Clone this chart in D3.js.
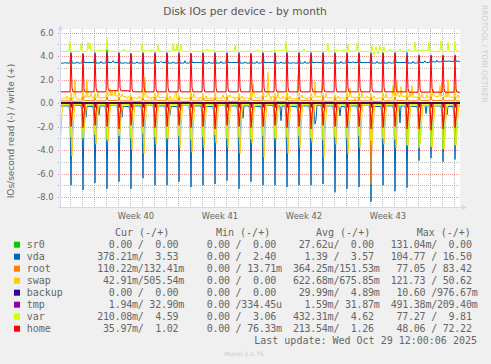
<!DOCTYPE html>
<html><head><meta charset="utf-8">
<script src="https://cdn.jsdelivr.net/npm/d3@7/dist/d3.min.js"></script>
<style>
body{margin:0;background:#f0f0f0;}
svg{display:block;}
text{white-space:pre;}
</style>
</head><body>
<svg id="chart" width="491" height="364"></svg>
<script>
// ---------------- DATA ----------------
// One entry per calendar day, Sep 26 .. Oct 29 2025 (34 days); values sampled every 2 h.
const seriesNames  = ["sr0","vda","root","swap","backup","tmp","var","home"];
const seriesColors = ["#00cc00","#0066b3","#ff8000","#ffcc00","#330099","#990099","#ccff00","#ff0000"];
const yTicks = [6,4,2,0,-2,-4,-6,-8];
const weekLabels = ["Week 40","Week 41","Week 42","Week 43"];

// write (+) side
const sr0Base        = [0,0,0,0,0,0,0,0,0,0,0,0,0,0,0,0,0,0,0,0,0,0,0,0,0,0,0,0,0,0,0,0,0,0];
const vdaWriteBase   = [3.40,3.40,3.45,3.40,3.45,3.40,3.40,3.40,3.45,3.40,3.40,3.45,3.40,3.40,3.45,3.40,3.40,3.45,3.40,3.40,3.40,3.45,3.40,3.40,3.45,3.45,3.40,3.40,3.45,3.40,3.45,3.50,3.55,3.55];
const vdaWritePeak   = [3.40,4.30,4.20,4.30,4.60,4.30,4.25,4.30,4.30,4.30,4.30,4.25,4.30,4.30,4.30,4.30,4.20,4.30,4.30,4.30,4.30,4.30,4.30,4.30,4.30,4.30,4.30,4.30,4.30,4.30,4.10,4.10,4.05,4.10];
const vdaWriteMid    = [3.45,3.50,3.45,3.55,3.60,3.45,3.50,3.45,3.55,3.50,3.60,3.45,3.50,3.55,3.45,3.50,3.55,3.45,3.50,3.45,3.55,3.50,3.45,3.55,3.50,3.45,3.55,3.50,3.45,3.55,3.60,3.65,3.60,3.60];
const rootWriteBase  = [0.18,0.15,0.20,0.18,0.22,0.18,0.15,0.18,0.20,0.18,0.15,0.18,0.20,0.18,0.15,0.18,0.20,0.18,0.15,0.18,0.20,0.18,0.15,0.18,0.20,0.18,0.15,0.18,0.20,0.18,0.20,0.22,0.20,0.18];
const rootWritePeak  = [0.18,0.50,0.60,0.45,0.55,0.50,0.60,0.45,0.50,0.55,0.50,0.60,0.45,0.50,0.55,0.50,0.45,0.60,0.50,0.55,0.50,0.45,0.60,0.50,0.55,0.50,0.60,0.45,0.50,0.55,0.50,0.60,0.50,0.55];
const swapWriteBase  = [0.40,0.35,0.50,0.45,0.60,0.55,0.40,0.50,0.45,0.35,0.40,0.45,0.35,0.40,0.50,0.40,0.45,0.60,0.40,0.35,0.45,0.50,0.45,0.40,0.50,0.45,0.40,0.45,0.55,0.50,0.45,0.55,0.50,0.45];
const swapWritePeak  = [0.4,0.9,1.2,0.8,1.0,0.9,0.7,1.1,0.8,0.9,0.7,1.0,0.8,0.9,0.7,0.8,1.0,0.9,0.8,1.1,0.9,0.8,1.0,0.7,0.9,1.0,0.8,0.9,1.0,1.1,0.9,1.0,1.2,0.9];
const swapWriteH8    = [0.3,0.7,0.5,0.9,0.6,0.8,0.5,0.7,0.9,0.6,0.5,0.8,0.6,0.5,0.7,0.6,0.8,0.5,0.9,0.6,0.7,0.5,0.8,0.6,0.7,0.9,0.6,0.8,0.7,0.9,0.8,0.7,0.9,0.7];
const swapWriteH18   = [0.6,0.3,0.8,0.5,1.1,0.4,0.6,0.3,0.5,0.7,0.4,0.3,0.5,0.7,0.3,0.5,0.4,0.3,0.6,0.4,0.3,0.6,0.4,0.5,0.3,0.6,0.5,0.4,0.6,0.5,0.7,0.6,0.5,0.6];
const swapWriteEvents = [[1,10,2.0],[2,10,2.0],[4,8,1.3],[4,12,1.0],[7,6,2.2],[9,20,1.0],[16,6,1.6],[17,12,2.6],[20,0,2.4],[21,10,1.8],[22,0,1.6],[24,8,1.3],[27,22,1.5],[28,6,1.9],[28,14,1.4],[29,12,1.5],[31,6,1.2],[31,20,1.5],[32,0,1.8],[32,12,2.0],[33,2,1.4]];
const backupWriteBase = [0,0,0,0,0,0,0,0,0,0,0,0,0,0,0,0,0,0,0,0,0,0,0,0,0,0,0,0,0,0,0,0,0,0];
const backupWritePeak = [0,0.05,0.05,0.05,0.05,0.05,0.05,0.05,0.05,0.05,0.05,0.05,0.05,0.05,0.05,0.05,0.05,0.05,0.05,0.05,0.05,0.05,0.05,0.05,0.05,0.05,0.05,0.05,0.05,0.05,0.05,0.05,0.05,0.05];
const tmpWriteBase   = [0.03,0.03,0.03,0.03,0.03,0.03,0.03,0.03,0.03,0.03,0.03,0.03,0.03,0.03,0.03,0.03,0.03,0.03,0.03,0.03,0.03,0.03,0.03,0.03,0.03,0.03,0.03,0.03,0.03,0.03,0.03,0.03,0.03,0.03];
const varWriteBase   = [4.40,4.40,4.40,4.45,4.40,4.40,4.40,4.45,4.40,4.40,4.40,4.40,4.45,4.40,4.40,4.40,4.40,4.40,4.45,4.40,4.40,4.40,4.40,4.45,4.40,4.40,4.40,4.40,4.40,4.40,4.45,4.40,4.40,4.40];
const varWriteEvents = [[1,0,5.2],[1,22,5.1],[2,12,5.2],[2,14,4.6],[2,16,5.1],[4,2,5.4],[5,12,4.6],[7,0,5.0],[8,8,4.95],[9,14,5.1],[9,18,4.6],[9,22,5.0],[10,6,5.0],[12,10,4.6],[14,18,4.95],[16,16,4.55],[19,0,5.2],[20,12,4.6],[22,12,5.1],[24,4,5.0],[24,22,5.1],[26,4,4.9],[26,8,4.1],[26,12,4.8],[26,16,4.2],[26,20,4.9],[27,0,4.3],[27,4,4.8],[27,8,4.4],[27,16,4.6],[28,12,4.6],[29,6,4.6],[29,18,5.2],[30,22,5.2],[31,22,5.3],[32,12,5.2],[33,2,5.2]];
const homeWriteBase  = [0.95,0.95,0.95,0.95,1.05,1.05,0.95,0.95,0.95,0.95,0.95,0.95,0.95,0.95,0.95,0.95,0.95,0.95,0.95,0.95,0.95,0.95,0.95,0.95,0.95,0.95,0.95,0.95,0.95,0.92,0.92,0.92,0.92,0.92];
const homeWritePeak  = [0.95,4.20,4.20,4.15,4.20,4.20,4.15,4.20,4.20,4.20,4.15,4.20,4.20,4.20,4.20,4.15,4.20,4.20,4.20,4.20,4.20,4.15,4.20,4.20,4.20,4.20,4.15,4.20,4.20,4.00,4.00,4.00,4.05,4.00];
const homeWriteAfter = [0.95,1.30,1.20,1.30,1.25,1.30,1.20,1.30,1.25,1.30,1.20,1.30,1.25,1.30,1.20,1.30,1.25,1.30,1.20,1.30,1.25,1.30,1.20,1.30,1.25,1.30,1.20,1.30,1.25,1.20,1.20,1.25,1.20,1.20];

// read (-) side
const vdaReadBase    = [-0.25,-0.20,-0.30,-0.25,-0.20,-0.30,-0.25,-0.20,-0.25,-0.30,-0.20,-0.25,-0.30,-0.20,-0.25,-0.25,-0.30,-0.20,-0.25,-0.30,-0.25,-0.20,-0.25,-0.30,-0.25,-0.20,-0.30,-0.25,-0.25,-0.30,-0.20,-0.25,-0.30,-0.25];
const vdaReadPre     = [-0.5,-1.0,-0.8,-1.2,-0.9,-1.0,-0.8,-1.1,-0.9,-1.0,-0.8,-1.2,-0.9,-1.0,-0.8,-1.1,-0.9,-1.0,-0.8,-1.2,-0.9,-1.0,-0.8,-1.1,-0.9,-1.0,-0.8,-1.2,-0.9,-1.0,-0.8,-1.1,-0.9,-1.0];
const vdaReadPeak    = [-0.3,-7.0,-7.4,-6.8,-7.3,-6.7,-7.3,-6.4,-7.0,-7.0,-6.7,-7.15,-7.0,-6.9,-6.6,-7.3,-6.7,-7.0,-7.0,-7.15,-7.0,-7.0,-6.9,-7.6,-7.3,-7.15,-8.4,-7.0,-7.5,-7.2,-4.9,-4.7,-5.0,-4.8];
const vdaReadAfter   = [-0.6,-1.2,-1.0,-1.4,-1.1,-1.2,-1.0,-1.3,-1.1,-1.2,-1.0,-1.3,-1.1,-1.2,-1.0,-1.3,-1.1,-1.2,-1.0,-1.3,-1.1,-1.2,-1.0,-1.3,-1.1,-1.2,-1.4,-1.3,-1.1,-1.2,-1.5,-1.6,-1.5,-1.4];
const vdaReadEvents  = [[2,8,-1.2],[3,10,-1.0],[5,8,-1.2],[9,8,-1.0],[15,10,-1.3],[18,14,-1.5],[21,10,-1.8],[21,12,-1.4],[23,12,-1.1],[28,12,-1.7],[30,16,-0.9],[32,10,-1.0]];
const rootReadBase   = [-0.05,-0.05,-0.05,-0.05,-0.05,-0.05,-0.05,-0.05,-0.05,-0.05,-0.05,-0.05,-0.05,-0.05,-0.05,-0.05,-0.05,-0.05,-0.05,-0.05,-0.05,-0.05,-0.05,-0.05,-0.05,-0.05,-0.05,-0.05,-0.05,-0.05,-0.05,-0.05,-0.05,-0.05];
const rootReadPeak   = [-0.05,-2.3,-2.2,-2.4,-2.3,-2.1,-2.3,-2.2,-2.4,-2.3,-2.2,-2.3,-2.1,-2.4,-2.3,-2.2,-2.3,-2.4,-2.2,-2.3,-2.1,-2.3,-2.2,-2.4,-2.3,-2.2,-6.9,-2.3,-2.2,-2.4,-2.3,-2.2,-2.3,-2.2];
const rootReadAfter  = [-0.3,-1.4,-1.3,-1.5,-1.4,-1.2,-1.4,-1.3,-1.5,-1.4,-1.3,-1.4,-1.2,-1.5,-1.4,-1.3,-1.4,-1.5,-1.3,-1.4,-1.2,-1.4,-1.3,-1.5,-1.4,-1.3,-2.0,-1.4,-1.3,-1.5,-1.4,-1.3,-1.4,-1.3];
const swapReadBase   = [-0.15,-0.15,-0.20,-0.15,-0.20,-0.15,-0.15,-0.20,-0.15,-0.15,-0.20,-0.15,-0.15,-0.20,-0.15,-0.15,-0.20,-0.15,-0.15,-0.20,-0.15,-0.15,-0.20,-0.15,-0.15,-0.20,-0.15,-0.15,-0.20,-0.15,-0.20,-0.20,-0.20,-0.20];
const swapReadPre    = [-1.5,-2.0,-1.8,-2.1,-1.9,-2.0,-1.8,-2.2,-1.9,-2.0,-1.8,-2.1,-1.9,-2.0,-1.8,-2.2,-1.9,-2.0,-1.8,-2.1,-1.9,-2.0,-1.8,-2.2,-1.9,-2.0,-1.8,-2.1,-1.9,-2.0,-2.2,-2.3,-2.2,-2.1];
const swapReadPeak   = [-3.8,-4.5,-2.4,-3.5,-3.3,-2.4,-4.0,-4.3,-3.5,-3.0,-3.8,-4.2,-3.8,-3.4,-3.8,-4.3,-3.4,-4.6,-3.0,-4.3,-3.8,-3.3,-4.6,-3.5,-4.3,-3.8,-3.6,-3.5,-3.8,-3.6,-3.5,-3.8,-3.9,-3.6];
const swapReadTail   = [-2.4,-2.8,-1.6,-2.2,-2.0,-1.5,-2.5,-2.7,-2.2,-1.9,-2.4,-2.6,-2.4,-2.1,-2.4,-2.7,-2.1,-2.9,-1.9,-2.7,-2.4,-2.1,-2.9,-2.2,-2.7,-2.4,-2.3,-2.2,-2.4,-2.5,-2.6,-2.7,-2.8,-2.6];
const swapReadH8     = [-0.8,-0.9,-0.6,-0.8,-0.7,-0.6,-0.9,-0.8,-0.7,-0.6,-0.8,-0.9,-0.8,-0.7,-0.8,-0.9,-0.7,-1.0,-0.6,-0.9,-0.8,-0.7,-1.0,-0.7,-0.9,-0.8,-0.8,-0.7,-0.8,-1.0,-1.1,-1.2,-1.1,-1.0];
const backupReadBase = [0,0,0,0,0,0,0,0,0,0,0,0,0,0,0,0,0,0,0,0,0,0,0,0,0,0,0,0,0,0,0,0,0,0];
const backupReadPeak = [0,-0.4,-0.4,-0.4,-0.4,-0.4,-0.4,-0.4,-0.4,-0.4,-0.4,-0.4,-0.4,-0.4,-0.4,-0.4,-0.4,-0.4,-0.4,-0.4,-0.4,-0.4,-0.4,-0.4,-0.4,-0.4,-0.4,-0.4,-0.4,-0.4,-0.4,-0.4,-0.4,-0.4];
const tmpReadBase    = [-0.01,-0.01,-0.01,-0.01,-0.01,-0.01,-0.01,-0.01,-0.01,-0.01,-0.01,-0.01,-0.01,-0.01,-0.01,-0.01,-0.01,-0.01,-0.01,-0.01,-0.01,-0.01,-0.01,-0.01,-0.01,-0.01,-0.01,-0.01,-0.01,-0.01,-0.01,-0.01,-0.01,-0.01];
const tmpReadPeak    = [-0.01,-0.15,-0.15,-0.15,-0.15,-0.15,-0.15,-0.15,-0.15,-0.15,-0.15,-0.15,-0.15,-0.15,-0.15,-0.15,-0.15,-0.15,-0.15,-0.15,-0.15,-0.15,-0.15,-0.15,-0.15,-0.15,-0.15,-0.15,-0.15,-0.15,-0.15,-0.15,-0.15,-0.15];
const varReadBase    = [-0.10,-0.10,-0.10,-0.10,-0.10,-0.10,-0.10,-0.10,-0.10,-0.10,-0.10,-0.10,-0.10,-0.10,-0.10,-0.10,-0.10,-0.10,-0.10,-0.10,-0.10,-0.10,-0.10,-0.10,-0.10,-0.10,-0.10,-0.10,-0.10,-0.15,-0.15,-0.15,-0.15,-0.15];
const varReadPeak    = [-0.1,-2.9,-3.0,-2.7,-3.1,-2.8,-3.0,-2.6,-2.9,-3.0,-2.8,-3.1,-2.9,-2.7,-3.0,-2.9,-3.1,-2.8,-3.0,-2.9,-2.8,-3.0,-3.1,-2.9,-3.0,-2.8,-3.2,-3.0,-3.1,-3.6,-3.8,-3.7,-3.9,-3.6];
const varReadAfter   = [-0.5,-1.1,-1.2,-1.0,-1.3,-1.1,-1.2,-1.0,-1.1,-1.2,-1.1,-1.3,-1.1,-1.0,-1.2,-1.1,-1.3,-1.1,-1.2,-1.1,-1.1,-1.2,-1.3,-1.1,-1.2,-1.1,-1.4,-1.2,-1.3,-3.0,-3.2,-3.1,-3.3,-3.0];
const varReadTail    = [-0.2,-0.3,-0.3,-0.3,-0.4,-0.3,-0.3,-0.3,-0.3,-0.3,-0.3,-0.4,-0.3,-0.3,-0.3,-0.3,-0.4,-0.3,-0.3,-0.3,-0.3,-0.3,-0.4,-0.3,-0.3,-0.3,-0.4,-0.3,-0.4,-1.8,-2.0,-1.8,-2.1,-1.7];
const homeReadBase   = [-0.03,-0.03,-0.03,-0.03,-0.03,-0.03,-0.03,-0.03,-0.03,-0.03,-0.03,-0.03,-0.03,-0.03,-0.03,-0.03,-0.03,-0.03,-0.03,-0.03,-0.03,-0.03,-0.03,-0.03,-0.03,-0.03,-0.03,-0.03,-0.03,-0.03,-0.03,-0.03,-0.03,-0.03];
const homeReadPeak   = [-0.03,-2.0,-2.1,-1.9,-2.0,-2.2,-1.9,-2.0,-2.1,-2.0,-1.9,-2.1,-2.0,-2.2,-1.9,-2.0,-2.1,-2.0,-1.9,-2.1,-2.0,-2.2,-1.9,-2.0,-2.1,-2.0,-2.2,-2.1,-2.0,-2.2,-2.2,-2.3,-2.2,-2.1];
const homeReadAfter  = [-0.3,-0.9,-1.0,-0.8,-0.9,-1.0,-0.8,-0.9,-1.0,-0.9,-0.8,-1.0,-0.9,-1.0,-0.8,-0.9,-1.0,-0.9,-0.8,-1.0,-0.9,-1.0,-0.8,-0.9,-1.0,-0.9,-1.0,-1.0,-0.9,-1.0,-1.0,-1.1,-1.0,-1.0];

// legend statistics, columns: Cur, Min, Avg, Max  (read, write)
const legendCur = [["  0.00 ","  0.00 "],["378.21m","  3.53 "],["110.22m","132.41m"],[" 42.91m","505.54m"],["  0.00 ","  0.00 "],["  1.94m"," 32.90m"],["210.08m","  4.59 "],[" 35.97m","  1.02 "]];
const legendMin = [["  0.00 ","  0.00 "],["  0.00 ","  2.40 "],["  0.00 "," 13.71m"],["  0.00 ","  0.00 "],["  0.00 ","  0.00 "],["  0.00 ","334.45u"],["  0.00 ","  3.06 "],["  0.00 "," 76.33m"]];
const legendAvg = [[" 27.62u","  0.00 "],["  1.39 ","  3.57 "],["364.25m","151.53m"],["622.68m","675.85m"],[" 29.99m","  4.89m"],["  1.59m"," 31.87m"],["432.31m","  4.62 "],["213.54m","  1.26 "]];
const legendMax = [["131.04m","  0.00 "],["104.77 "," 16.50 "],[" 77.05 "," 83.42 "],["121.73 "," 50.62 "],[" 10.60 ","976.67m"],["491.38m","209.40m"],[" 77.27 ","  9.81 "],[" 48.06 "," 72.22 "]];
const legendHeaders = ["Cur (-/+)","Min (-/+)","Avg (-/+)","Max (-/+)"];

// ---------------- BUILD ----------------
const HOURS = [0,2,4,6,8,10,12,14,16,18,20,22];
function build(base, hourArrays, events) {
  const pts = [];
  for (let i = 0; i < base.length; i++) {
    for (const h of HOURS) {
      let v = base[i];
      if (hourArrays && hourArrays[h]) v = hourArrays[h][i];
      pts.push({t: new Date(2025, 8, 26 + i, h), v: v});
    }
  }
  (events || []).forEach(e => { pts[e[0] * HOURS.length + e[1] / 2].v = e[2]; });
  return pts;
}
const readData = [
  build(sr0Base),
  build(vdaReadBase, {0: vdaReadPre, 2: vdaReadPeak, 4: vdaReadAfter}, vdaReadEvents),
  build(rootReadBase, {2: rootReadPeak, 4: rootReadAfter}),
  build(swapReadBase, {2: swapReadPre, 4: swapReadPeak, 6: swapReadTail, 8: swapReadH8}),
  build(backupReadBase, {2: backupReadPeak}),
  build(tmpReadBase, {2: tmpReadPeak}),
  build(varReadBase, {2: varReadPeak, 4: varReadAfter, 6: varReadTail}),
  build(homeReadBase, {2: homeReadPeak, 4: homeReadAfter})
];
const writeData = [
  build(sr0Base),
  build(vdaWriteBase, {2: vdaWritePeak, 14: vdaWriteMid}),
  build(rootWriteBase, {2: rootWritePeak}),
  build(swapWriteBase, {2: swapWritePeak, 8: swapWriteH8, 18: swapWriteH18}, swapWriteEvents),
  build(backupWriteBase, {2: backupWritePeak}),
  build(tmpWriteBase),
  build(varWriteBase, null, varWriteEvents),
  build(homeWriteBase, {2: homeWritePeak, 4: homeWriteAfter})
];

// ---------------- DRAW ----------------
const svg = d3.select("#chart");
const L = 60, R = 460, T = 29, B = 207;
const start = new Date(2025, 8, 26, 4, 0), end = new Date(2025, 9, 29, 12, 0);
const x = d3.scaleTime().domain([start, end]).range([L, R]);
const y = d3.scaleLinear().domain([-8.85, 6.3]).range([B, T]);
const FONT = "#666666";

svg.append("rect").attr("width", 491).attr("height", 364).attr("fill", "#f0f0f0");
svg.append("rect").attr("x", L).attr("y", T).attr("width", R - L).attr("height", B - T).attr("fill", "#ffffff");

// grid
const minorColor = "rgba(143,143,143,0.6)", majorColor = "rgba(222,79,79,0.6)";
const g = svg.append("g");
const dayTicks = d3.timeDay.range(d3.timeDay.ceil(start), end);
dayTicks.forEach(d => {
  const major = d.getDay() === 1;
  const px = Math.round(x(d)) + 0.5;
  g.append("line").attr("x1", px).attr("x2", px).attr("y1", T).attr("y2", B + 2)
    .attr("stroke", major ? majorColor : minorColor).attr("stroke-dasharray", "1,1");
});
d3.range(-8, 7, 1).forEach(v => {
  const major = v % 2 === 0;
  const py = Math.round(y(v)) + 0.5;
  g.append("line").attr("x1", L - 2).attr("x2", R).attr("y1", py).attr("y2", py)
    .attr("stroke", major ? majorColor : minorColor).attr("stroke-dasharray", "1,1");
});

// data lines
svg.append("clipPath").attr("id", "clip").append("rect").attr("x", L).attr("y", T).attr("width", R - L).attr("height", B - T);
const line = d3.line().x(d => x(d.t)).y(d => y(d.v));
const lg = svg.append("g").attr("clip-path", "url(#clip)");
seriesNames.forEach((n, k) => {
  lg.append("path").datum(readData[k]).attr("d", line).attr("fill", "none").attr("stroke", seriesColors[k]).attr("stroke-width", 1);
  lg.append("path").datum(writeData[k]).attr("d", line).attr("fill", "none").attr("stroke", seriesColors[k]).attr("stroke-width", 1);
});
lg.append("line").attr("x1", L).attr("x2", R).attr("y1", y(0)).attr("y2", y(0)).attr("stroke", "#000").attr("stroke-width", 1);

// axes
const axisColor = "#cfd6f8";
svg.append("line").attr("x1", L - 2).attr("x2", R + 3).attr("y1", B + 0.5).attr("y2", B + 0.5).attr("stroke", axisColor);
svg.append("line").attr("x1", L + 0.5).attr("x2", L + 0.5).attr("y1", B + 2).attr("y2", T - 1).attr("stroke", axisColor);
svg.append("path").attr("d", `M${R + 2},${B - 2} L${R + 7},${B + 0.5} L${R + 2},${B + 3} Z`).attr("fill", axisColor);
svg.append("path").attr("d", `M${L - 2},${T + 1} L${L + 0.5},${T - 4} L${L + 3},${T + 1} Z`).attr("fill", axisColor);

// y tick labels
yTicks.forEach(v => {
  svg.append("text").attr("x", 53.5).attr("y", y(v) + 3).attr("text-anchor", "end")
    .attr("font-family", "DejaVu Sans").attr("font-size", 8.4).attr("fill", FONT).text(v.toFixed(1));
});
// week labels
const mondays = d3.timeMonday.range(start, end);
weekLabels.forEach((w, i) => {
  const mid = new Date(mondays[i].getTime() + 3.5 * 864e5);
  svg.append("text").attr("x", x(mid)).attr("y", 219).attr("text-anchor", "middle")
    .attr("font-family", "DejaVu Sans").attr("font-size", 8.4).attr("fill", FONT).text(w);
});

// title
svg.append("text").attr("x", 245).attr("y", 15.3).attr("text-anchor", "middle")
  .attr("font-family", "DejaVu Sans").attr("font-size", 10.6).attr("fill", "#555").text("Disk IOs per device - by month");
// y axis label
svg.append("text").attr("transform", "translate(14,131) rotate(-90)").attr("text-anchor", "middle")
  .attr("font-family", "DejaVu Sans").attr("font-size", 9).attr("fill", FONT).text("IOs/second read (-) / write (+)");
// watermark
svg.append("text").attr("transform", "translate(482,5) rotate(90)").attr("text-anchor", "start")
  .attr("font-family", "DejaVu Sans").attr("font-size", 7.6).attr("fill", "#cfcfcf").text("RRDTOOL / TOBI OETIKER");

// legend
const mono = "DejaVu Sans Mono";
const headerX = [115, 216, 316, 416.7];
legendHeaders.forEach((h, i) => {
  svg.append("text").attr("x", headerX[i]).attr("y", 236.3).attr("font-family", mono).attr("font-size", 10).attr("fill", FONT).text(h);
});
const colX = [97.3, 195.1, 292.9, 390.7];
const cols = [legendCur, legendMin, legendAvg, legendMax];
seriesNames.forEach((n, k) => {
  const by = 248.3 + 12 * k;
  svg.append("rect").attr("x", 14).attr("y", by - 6.6).attr("width", 6).attr("height", 6).attr("fill", seriesColors[k]);
  svg.append("text").attr("x", 26.7).attr("y", by).attr("font-family", mono).attr("font-size", 10).attr("fill", FONT).text(n);
  cols.forEach((c, i) => {
    // read value, slash and write value as one cell, slightly condensed like the original
    svg.append("text").attr("x", colX[i]).attr("y", by).attr("font-family", mono).attr("font-size", 10).attr("fill", FONT)
      .attr("textLength", 87).attr("lengthAdjust", "spacing").text(c[k][0] + "/" + c[k][1]);
  });
});
svg.append("text").attr("x", 477).attr("y", 343.8).attr("text-anchor", "end").attr("font-family", mono).attr("font-size", 10).attr("fill", FONT)
  .text("Last update: Wed Oct 29 12:00:06 2025");
svg.append("text").attr("x", 244).attr("y", 355.5).attr("text-anchor", "middle").attr("font-family", "DejaVu Sans").attr("font-size", 6).attr("fill", "#cccccc")
  .text("Munin 2.0.76");
</script>
</body></html>
